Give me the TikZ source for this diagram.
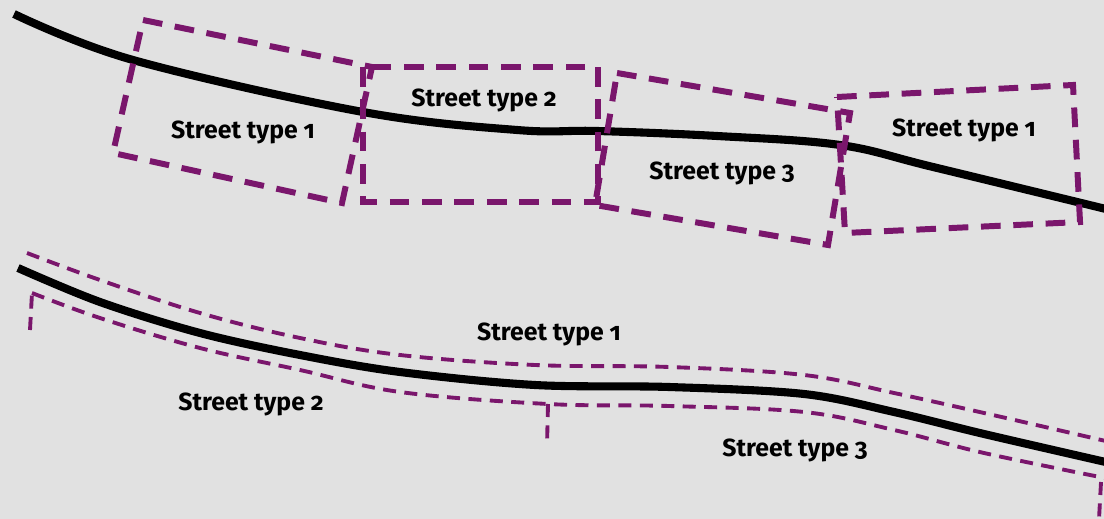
\documentclass[tikz,border=0pt]{standalone}
\usepackage{fontspec}
\setmainfont{Fira Sans}[Numbers=OldStyle]
\definecolor{zonepurple}{RGB}{122,22,108}
\definecolor{paper}{RGB}{225,225,225}

\begin{document}
\begin{tikzpicture}[
        x=0.01cm, y=-0.01cm,
        roadstyle/.style={line width=2.3pt, black},
        zonebox/.style={draw=zonepurple, line width=1.7pt, dash pattern=on 5.6pt off 3.6pt},
        zoneline/.style={draw=zonepurple, line width=1.1pt, dash pattern=on 3.7pt off 2.4pt},
        labelstyle/.style={font=\fontsize{7.05}{8.5}\selectfont\bfseries, inner sep=0pt, anchor=base}
    ]
    \fill[paper] (0,0) rectangle (1104,519);
    \useasboundingbox (0,0) rectangle (1104,519);
    \clip (0,0) rectangle (1104,519);

    % upper sketch: street split into boxes
    \draw[roadstyle] plot[smooth, tension=0.6] coordinates {(14,14) (133,60) (363,112) (517,130) (597,131) (717,136) (840,145) (933,167) (1110,210)};

    \draw[zonebox] (143,20) -- (372,67) -- (342,203) -- (113,153) -- cycle;
    \draw[zonebox] (363,67) rectangle (598,202);
    \draw[zonebox] (617,73) -- (850,113) -- (828,245) -- (595,205) -- cycle;
    \draw[zonebox] (837,97) -- (1073,85) -- (1080,222) -- (845,233) -- cycle;

    \node[labelstyle] (topa) at (243,139) {Street type 1};
    \node[labelstyle] (topb) at (484,107) {Street type 2};
    \node[labelstyle] (topc) at (722,180) {Street type 3};
    \node[labelstyle] (topd) at (964,137) {Street type 1};

    % lower sketch: street split along its length
    \draw[roadstyle] plot[smooth, tension=0.55] coordinates {(18,268) (100,302) (200,333) (300,355) (400,372) (535,385) (669,387) (804,394) (894,412) (984,434) (1110,463)};

    \draw[zoneline] plot[smooth, tension=0.6] coordinates {(27,253) (100,280) (200,313) (300,338) (400,355) (535,365) (669,367) (804,375) (894,393) (984,413) (1110,442)};
    \draw[zoneline] (30,330) -- (32,293);
    \draw[zoneline] plot[smooth, tension=0.6] coordinates {(32,293) (100,318) (200,348) (300,370) (400,392) (548,404) (669,406) (804,412) (894,430) (984,453) (1110,479)};
    \draw[zoneline] (548,404) -- (547,445);
    \draw[zoneline] (1101,482) -- (1099,519);

    \node[labelstyle] (bota) at (549,341) {Street type 1};
    \node[labelstyle] (botb) at (251,410) {Street type 2};
    \node[labelstyle] (botc) at (795,456) {Street type 3};
\end{tikzpicture}
\end{document}
